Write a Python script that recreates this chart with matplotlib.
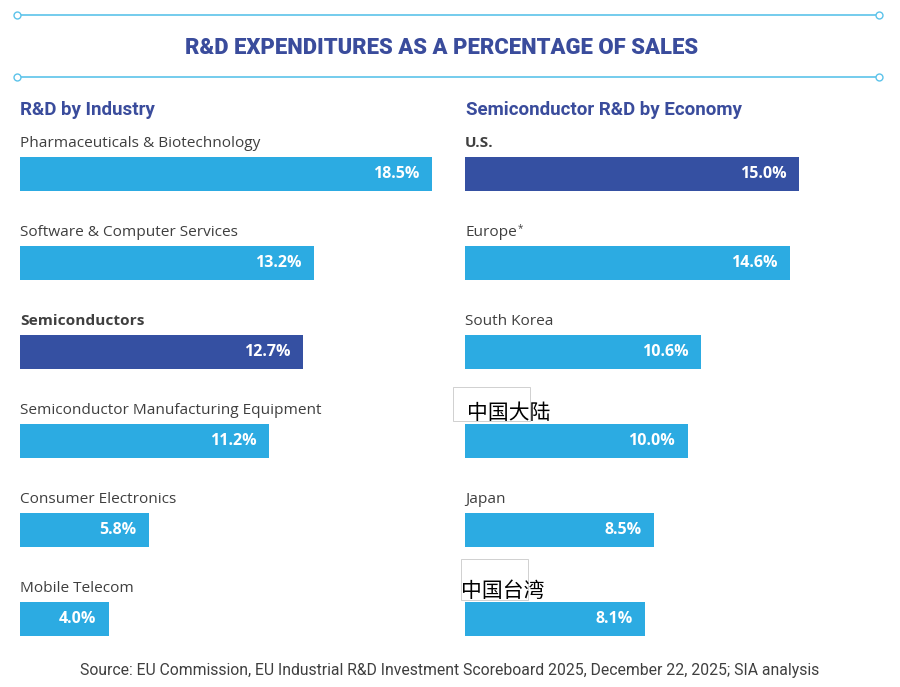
import matplotlib.pyplot as plt
from matplotlib.lines import Line2D
from matplotlib.patches import Rectangle

industries = [
    "Pharmaceuticals & Biotechnology",
    "Software & Computer Services",
    "Semiconductors",
    "Semiconductor Manufacturing Equipment",
    "Consumer Electronics",
    "Mobile Telecom",
]
industry_values = [18.5, 13.2, 12.7, 11.2, 5.8, 4.0]

economies = ["U.S.", "Europe*", "South Korea", "中国大陆", "Japan", "中国台湾"]
economy_values = [15.0, 14.6, 10.6, 10.0, 8.5, 8.1]

LIGHT = "#2CABE2"
NAVY = "#3550A2"
TITLE = "#3A4C9C"
TEXT = "#3F3F3F"
RULE = "#5CC3EA"

W, H = 900, 687
fig = plt.figure(figsize=(W / 100, H / 100), dpi=100)
fig.patch.set_facecolor("white")

# decorative rules with small circle ends
for ypx in (15, 77):
    y = 1 - ypx / H
    fig.add_artist(Line2D([17 / W, 879 / W], [y, y], color=RULE, lw=1.2,
                          transform=fig.transFigure))
    for xpx in (17, 879):
        fig.add_artist(Line2D([xpx / W], [y], marker="o", ms=5, mfc="white",
                              mec=RULE, mew=1.0, transform=fig.transFigure))

fig.text(442 / W, 1 - 48 / H, "R&D EXPENDITURES AS A PERCENTAGE OF SALES",
         ha="center", va="center", fontsize=15.8, fontweight="heavy",
         color=TITLE, family="Roboto")

fig.text(20 / W, 1 - 110 / H, "R&D by Industry", ha="left", va="center",
         fontsize=13.5, fontweight="bold", color=TITLE, family="Roboto")
fig.text(466 / W, 1 - 110 / H, "Semiconductor R&D by Economy", ha="left",
         va="center", fontsize=13.5, fontweight="bold", color=TITLE,
         family="Roboto")

fig.text(80 / W, 1 - 670 / H,
         "Source: EU Commission, EU Industrial R&D Investment Scoreboard 2025, "
         "December 22, 2025; SIA analysis",
         ha="left", va="center", fontsize=11.3, color=TEXT, family="Roboto")

# pasted label boxes (screenshot overlay look)
for x0, y0, x1, y1 in ((453, 387, 530, 421), (461, 559, 528, 600)):
    fig.add_artist(Rectangle((x0 / W, 1 - y1 / H), (x1 - x0) / W,
                             (y1 - y0) / H, transform=fig.transFigure,
                             fc="white", ec="#d0d0d0", lw=0.7, zorder=-1))

PX_PER_UNIT = 22.25
ROW = 89.0
top_px, bot_px = 130, 650
first_center = 174

renderer = fig.canvas.get_renderer()


def panel(left_px, names, values, highlight, bold_labels, cjk):
    width_px = 20 * PX_PER_UNIT
    ax = fig.add_axes([left_px / W, 1 - bot_px / H, width_px / W,
                       (bot_px - top_px) / H])
    ax.set_xlim(0, 20)
    off = (first_center - top_px) / ROW
    ax.set_ylim((bot_px - top_px) / ROW - off, -off)
    ax.axis("off")
    ax.patch.set_alpha(0)
    ypos = list(range(len(values)))
    colors = [NAVY if i == highlight else LIGHT for i in ypos]
    ax.barh(ypos, values, height=34 / ROW, color=colors, align="center")
    for i, (n, v) in enumerate(zip(names, values)):
        ax.annotate(f"{v:.1f}%", (v, i), xytext=(-9, 0),
                    textcoords="offset points", ha="right", va="center",
                    fontsize=11.5, fontweight="bold", color="white",
                    family="Open Sans")
        if i in cjk:
            dx = 0.1 if i == 3 else -0.2
            ax.text(dx, i - 0.32, n, ha="left", va="center", fontsize=15,
                    color="black", family=["Noto Sans CJK SC", "DejaVu Sans"])
        else:
            label = n.rstrip("*")
            t = ax.text(0, i - 0.345, label, ha="left", va="center",
                        fontsize=11.1, color=TEXT, family="Open Sans",
                        fontweight="bold" if i in bold_labels else "normal")
            if n.endswith("*"):
                bb = t.get_window_extent(renderer)
                fig.text((bb.x1 + 1) / W, (bb.y1 - 4) / H, "*", ha="left",
                         va="center", fontsize=7, color=TEXT,
                         family="Open Sans")
    return ax


panel(20, industries, industry_values, 2, {2}, set())
panel(465, economies, economy_values, 0, {0}, {3, 5})

fig.savefig("out.png", dpi=100, facecolor="white")
